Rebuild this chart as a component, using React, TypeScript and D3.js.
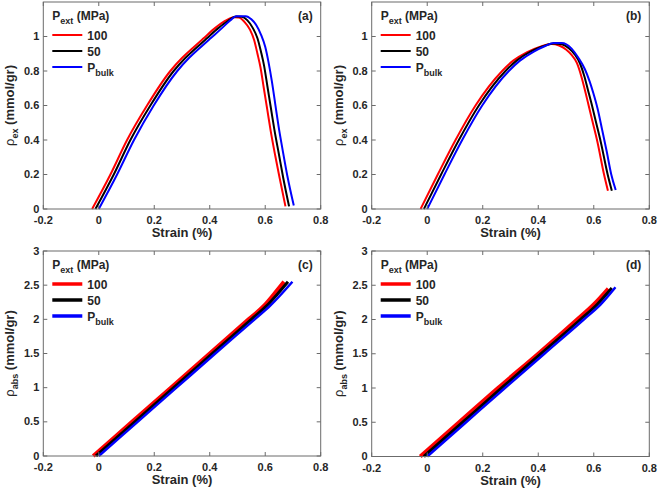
import React from "react";
import * as d3 from "d3";

type Pt = [number, number];

// ---- Data (strain %, density mmol/gr) ----
const xTicks = [-0.2, 0, 0.2, 0.4, 0.6, 0.8];
const yTicksTop = [0, 0.2, 0.4, 0.6, 0.8, 1];
const yTicksBottom = [0, 0.5, 1, 1.5, 2, 2.5, 3];
const legendLabels = ["100", "50", "Pbulk"];
const panelLabels = ["(a)", "(b)", "(c)", "(d)"];

const aRed: Pt[] = [[-0.024,0],[0.042,0.2],[0.102,0.4],[0.174,0.6],[0.258,0.8],[0.3,0.875],[0.34,0.935],[0.378,0.99],[0.42,1.05],[0.455,1.09],[0.487,1.112],[0.505,1.11],[0.525,1.085],[0.545,1.04],[0.56,0.98],[0.572,0.9],[0.583,0.82],[0.595,0.7],[0.607,0.58],[0.62,0.45],[0.636,0.31],[0.652,0.18],[0.673,0.015]];
const aBlack: Pt[] = [[-0.012,0],[0.054,0.2],[0.114,0.4],[0.186,0.6],[0.27,0.8],[0.312,0.875],[0.352,0.935],[0.39,0.99],[0.432,1.05],[0.465,1.09],[0.495,1.116],[0.515,1.115],[0.535,1.095],[0.555,1.05],[0.572,0.99],[0.585,0.91],[0.596,0.83],[0.608,0.71],[0.62,0.59],[0.633,0.46],[0.649,0.32],[0.665,0.18],[0.686,0.015]];
const aBlue: Pt[] = [[0.0,0],[0.066,0.2],[0.127,0.4],[0.198,0.6],[0.283,0.8],[0.325,0.875],[0.365,0.935],[0.403,0.99],[0.445,1.05],[0.475,1.095],[0.495,1.118],[0.53,1.118],[0.55,1.1],[0.568,1.065],[0.585,1.01],[0.6,0.94],[0.612,0.85],[0.624,0.74],[0.636,0.61],[0.648,0.48],[0.663,0.34],[0.68,0.19],[0.703,0.02]];

const bRed: Pt[] = [[-0.024,0],[0.038,0.2],[0.102,0.4],[0.174,0.6],[0.27,0.8],[0.31,0.86],[0.36,0.91],[0.405,0.94],[0.448,0.957],[0.475,0.948],[0.5,0.925],[0.52,0.893],[0.539,0.847],[0.555,0.77],[0.568,0.69],[0.58,0.61],[0.595,0.51],[0.613,0.39],[0.637,0.2],[0.651,0.106]];
const bBlack: Pt[] = [[-0.012,0],[0.05,0.2],[0.114,0.4],[0.186,0.6],[0.282,0.8],[0.322,0.86],[0.372,0.912],[0.415,0.942],[0.455,0.96],[0.485,0.955],[0.51,0.932],[0.532,0.895],[0.55,0.845],[0.566,0.77],[0.579,0.69],[0.592,0.61],[0.607,0.51],[0.625,0.39],[0.65,0.2],[0.665,0.106]];
const bBlue: Pt[] = [[0.0,0],[0.062,0.2],[0.126,0.4],[0.198,0.6],[0.294,0.8],[0.334,0.86],[0.384,0.913],[0.425,0.945],[0.455,0.963],[0.485,0.963],[0.52,0.93],[0.545,0.875],[0.568,0.81],[0.585,0.74],[0.598,0.674],[0.614,0.58],[0.63,0.46],[0.647,0.33],[0.663,0.2],[0.679,0.11]];

const cRed: Pt[] = [[-0.02,0],[0.12,0.5],[0.26,1.0],[0.4,1.5],[0.54,2.0],[0.596,2.2],[0.63,2.36],[0.668,2.55]];
const cBlack: Pt[] = [[-0.01,0],[0.13,0.5],[0.27,1.0],[0.41,1.5],[0.55,2.0],[0.606,2.2],[0.642,2.36],[0.682,2.55]];
const cBlue: Pt[] = [[0.0,0],[0.14,0.5],[0.28,1.0],[0.42,1.5],[0.562,2.0],[0.618,2.2],[0.656,2.36],[0.698,2.55]];

const dRed: Pt[] = [[-0.025,0],[0.115,0.5],[0.255,1.0],[0.4,1.5],[0.54,2.0],[0.6,2.22],[0.652,2.45]];
const dBlack: Pt[] = [[-0.012,0],[0.128,0.5],[0.268,1.0],[0.41,1.5],[0.552,2.0],[0.612,2.22],[0.665,2.46]];
const dBlue: Pt[] = [[0.0,0],[0.14,0.5],[0.28,1.0],[0.422,1.5],[0.564,2.0],[0.625,2.22],[0.678,2.47]];

const colors = ["#ff0000", "#000000", "#0000ff"];
const FONT = "'Liberation Sans', Arial, sans-serif";
const TXT = "#262626";
const AX = "#6b6b6b";

interface PanelProps {
  left: number; right: number; top: number; bottom: number;
  yDomain: [number, number]; yTicks: number[];
  series: Pt[][]; label: string; sub: string; widths: number[]; legendWidth: number;
}

function Panel(p: PanelProps) {
  const x = d3.scaleLinear().domain([-0.2, 0.8]).range([p.left, p.right]);
  const y = d3.scaleLinear().domain(p.yDomain).range([p.bottom, p.top]);
  const line = d3.line<Pt>().x(d => x(d[0])).y(d => y(d[1])).curve(d3.curveMonotoneX);
  const tl = 4;
  const ycl = (p.top + p.bottom) / 2;
  const lx = p.left + 9;
  return (
    <g>
      {p.series.map((s, i) => (
        <path key={i} d={line(s) || ""} fill="none" stroke={colors[i]} strokeWidth={p.widths[i]} strokeLinejoin="round" />
      ))}
      <rect x={p.left} y={p.top} width={p.right - p.left} height={p.bottom - p.top} fill="none" stroke={AX} strokeWidth={1} />
      {xTicks.map((t, i) => (
        <g key={i}>
          <line x1={x(t)} x2={x(t)} y1={p.bottom} y2={p.bottom - tl} stroke={AX} />
          <line x1={x(t)} x2={x(t)} y1={p.top} y2={p.top + tl} stroke={AX} />
          <text x={x(t)} y={p.bottom + 15} textAnchor="middle" fontSize={11} fontWeight="bold" fill={TXT} fontFamily={FONT}>{String(t)}</text>
        </g>
      ))}
      {p.yTicks.map((t, i) => (
        <g key={i}>
          <line x1={p.left} x2={p.left + tl} y1={y(t)} y2={y(t)} stroke={AX} />
          <line x1={p.right} x2={p.right - tl} y1={y(t)} y2={y(t)} stroke={AX} />
          <text x={p.left - 4} y={y(t) + 3.5} textAnchor="end" fontSize={11} fontWeight="bold" fill={TXT} fontFamily={FONT}>{String(t)}</text>
        </g>
      ))}
      <text x={(p.left + p.right) / 2} y={p.bottom + 28} textAnchor="middle" fontSize={13} fontWeight="bold" fill={TXT} fontFamily={FONT}>Strain (%)</text>
      <text transform={`translate(${p.left - 29},${ycl}) rotate(-90)`} textAnchor="middle" fontSize={13} fontWeight="bold" fill={TXT} fontFamily={FONT}>
        <tspan fontWeight="normal">ρ</tspan>
        <tspan fontSize={9} dy={4}>{p.sub}</tspan>
        <tspan dy={-4}> (mmol/gr)</tspan>
      </text>
      <text x={p.right - 8} y={p.top + 18} textAnchor="end" fontSize={12} fontWeight="bold" fill={TXT} fontFamily={FONT}>{p.label}</text>
      <text x={lx} y={p.top + 18} fontSize={12} fontWeight="bold" fill={TXT} fontFamily={FONT}>
        P<tspan fontSize={9} dy={4}>ext</tspan><tspan dy={-4}> (MPa)</tspan>
      </text>
      {legendLabels.map((l, i) => {
        const ly = p.top + 33 + i * 16;
        return (
          <g key={i}>
            <line x1={lx} x2={lx + 30} y1={ly} y2={ly} stroke={colors[i]} strokeWidth={p.legendWidth} />
            <text x={lx + 35} y={ly + 4.5} fontSize={12} fontWeight="bold" fill={TXT} fontFamily={FONT}>
              {l === "Pbulk" ? (<>P<tspan fontSize={9} dy={4}>bulk</tspan></>) : l}
            </text>
          </g>
        );
      })}
    </g>
  );
}

export default function App() {
  return (
    <svg width={660} height={490} style={{ position: "absolute", left: 0, top: 0, background: "#fff" }}>
      <rect width={660} height={490} fill="#fff" />
      <Panel left={43.3} right={320.7} top={2} bottom={209} yDomain={[0, 1.2]} yTicks={yTicksTop}
        series={[aRed, aBlack, aBlue]} label={panelLabels[0]} sub="ex" widths={[2, 2, 2]} legendWidth={2} />
      <Panel left={371.7} right={649.3} top={2} bottom={209} yDomain={[0, 1.2]} yTicks={yTicksTop}
        series={[bRed, bBlack, bBlue]} label={panelLabels[1]} sub="ex" widths={[2, 2, 2]} legendWidth={2} />
      <Panel left={43.3} right={320.7} top={251} bottom={456} yDomain={[0, 3]} yTicks={yTicksBottom}
        series={[cRed, cBlack, cBlue]} label={panelLabels[2]} sub="abs" widths={[4, 3, 2.5]} legendWidth={3.5} />
      <Panel left={371.7} right={649.3} top={251} bottom={456.5} yDomain={[0, 3]} yTicks={yTicksBottom}
        series={[dRed, dBlack, dBlue]} label={panelLabels[3]} sub="abs" widths={[4, 3, 2.5]} legendWidth={3.5} />
    </svg>
  );
}
